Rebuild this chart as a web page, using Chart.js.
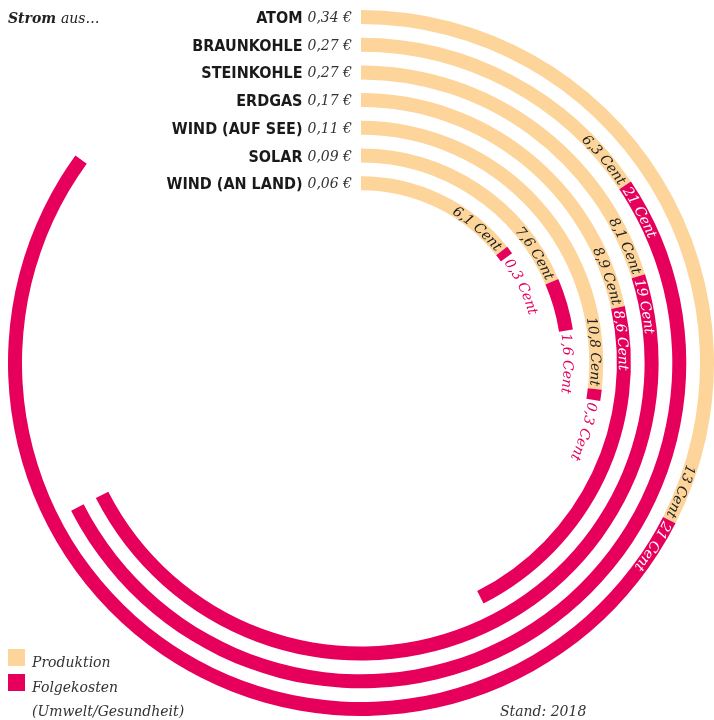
<!DOCTYPE html>
<html>
<head>
<meta charset="utf-8">
<script src="https://cdn.jsdelivr.net/npm/chart.js@4.4.1/dist/chart.umd.min.js"></script>
<style>
  body { margin: 0; background: #fff; }
  #wrap { width: 714px; height: 720px; }
</style>
</head>
<body>
<div id="wrap"><canvas id="stromChart" width="714" height="720"></canvas></div>
<script>
// Strom aus ... : Produktionskosten + Folgekosten je kWh (Cent)
var categories = ['ATOM', 'BRAUNKOHLE', 'STEINKOHLE', 'ERDGAS', 'WIND (AUF SEE)', 'SOLAR', 'WIND (AN LAND)'];
var totalEuro = [0.34, 0.27, 0.27, 0.17, 0.11, 0.09, 0.06];
var production = [13, 6.3, 8.1, 8.9, 10.8, 7.6, 6.1];
var followUp = [21, 21, 19, 8.6, 0.3, 1.6, 0.3];
var seriesNames = ['Produktion', 'Folgekosten'];
var fullCircleEuro = 0.40;   // one full turn = 40 Cent

var ORANGE = '#fdd59a';
var MAGENTA = '#e6005c';
var RING = 14;     // ring thickness
var GAP = 13.7;    // white space between rings

var serif = '"DejaVu Serif", "Liberation Serif", serif';
var sansCond = '"DejaVu Sans Condensed", "Liberation Sans Narrow", "DejaVu Sans", sans-serif';

var datasets = [];
categories.forEach(function(cat, i) {
    if (i > 0) {
        // invisible spacer ring (full circle)
        datasets.push({ label: 'gap', data: [1], backgroundColor: ['rgba(0,0,0,0)'], weight: GAP, isGap: true });
    }
    datasets.push({
        label: cat,
        data: [production[i], followUp[i]],
        backgroundColor: [ORANGE, MAGENTA],
        circumference: totalEuro[i] / fullCircleEuro * 360,
        weight: RING,
        ringIndex: i
    });
});

function cent(v) { return String(v).replace('.', ',') + ' Cent'; }
function euro(v) { return v.toFixed(2).replace('.', ',') + ' €'; }

function textWidth(ctx, text) {
    var w = 0;
    for (var k = 0; k < text.length; k++) w += ctx.measureText(text[k]).width;
    return w;
}

// write text letter by letter along a circle, clockwise from angle a0
function arcText(ctx, text, cx, cy, r, a0) {
    var a = a0;
    for (var k = 0; k < text.length; k++) {
        var w = ctx.measureText(text[k]).width;
        var mid = a + (w / 2) / r;
        ctx.save();
        ctx.translate(cx + r * Math.cos(mid), cy + r * Math.sin(mid));
        ctx.rotate(mid + Math.PI / 2);
        ctx.fillText(text[k], 0, 5);
        ctx.restore();
        a += w / r;
    }
}

var labelsPlugin = {
    id: 'ringLabels',
    afterDatasetsDraw: function(chart) {
        var ctx = chart.ctx;
        ctx.save();
        chart.data.datasets.forEach(function(ds, di) {
            if (ds.isGap) return;
            var i = ds.ringIndex;
            var arcs = chart.getDatasetMeta(di).data;
            var prod = arcs[0], foll = arcs[1];
            var cx = prod.x, cy = prod.y;
            var r = (prod.innerRadius + prod.outerRadius) / 2;

            // name + value left of the ring start
            var yTop = cy - r;
            ctx.textBaseline = 'alphabetic';
            ctx.textAlign = 'right';
            ctx.font = 'italic 14px ' + serif;
            ctx.fillStyle = '#333';
            var vx = cx - 9;
            ctx.fillText(euro(totalEuro[i]), vx, yTop + 5);
            var vw = ctx.measureText(euro(totalEuro[i])).width;
            ctx.font = 'bold 16px ' + sansCond;
            ctx.fillStyle = '#1a1a1a';
            ctx.fillText(categories[i], vx - vw - 5, yTop + 6);

            // along-the-ring labels
            ctx.textAlign = 'center';
            ctx.font = 'italic 14px ' + serif;
            var t1 = cent(production[i]);
            var w1 = textWidth(ctx, t1);
            ctx.fillStyle = '#222';
            arcText(ctx, t1, cx, cy, r, prod.endAngle - 3 / r - w1 / r);

            var t2 = cent(followUp[i]);
            var w2 = textWidth(ctx, t2);
            var span = (foll.endAngle - foll.startAngle) * r;
            if (w2 + 6 <= span) {
                ctx.fillStyle = '#fff';
                arcText(ctx, t2, cx, cy, r, foll.startAngle + 3 / r);
            } else {
                ctx.fillStyle = MAGENTA;
                arcText(ctx, t2, cx, cy, r, foll.endAngle + 3 / r);
            }
        });

        // title
        ctx.textAlign = 'left';
        ctx.fillStyle = '#222';
        ctx.font = 'bold italic 14px ' + serif;
        ctx.fillText('Strom', 8, 23);
        var sw = ctx.measureText('Strom ').width;
        ctx.font = 'italic 14px ' + serif;
        ctx.fillText('aus…', 8 + sw, 23);

        // legend
        ctx.fillStyle = ORANGE;
        ctx.fillRect(8, 649, 17, 17);
        ctx.fillStyle = MAGENTA;
        ctx.fillRect(8, 674, 17, 17);
        ctx.fillStyle = '#333';
        ctx.fillText(seriesNames[0], 32, 667);
        ctx.fillText(seriesNames[1], 32, 692);
        ctx.fillText('(Umwelt/Gesundheit)', 32, 716);
        ctx.fillText('Stand: 2018', 500, 716);
        ctx.restore();
    }
};

var ctx = document.getElementById('stromChart').getContext('2d');
var stromChart = new Chart(ctx, {
    type: 'doughnut',
    data: {
        labels: [seriesNames[0], seriesNames[1]],
        datasets: datasets
    },
    options: {
        responsive: false,
        animation: false,
        events: [],
        cutout: 172.8,
        borderWidth: 0,
        offset: 0,
        hoverOffset: 0,
        spacing: 0,
        layout: { padding: { left: 8, top: 10, right: 0, bottom: 4 } },
        plugins: {
            legend: { display: false },
            tooltip: { enabled: false }
        }
    },
    plugins: [labelsPlugin]
});
</script>
</body>
</html>
